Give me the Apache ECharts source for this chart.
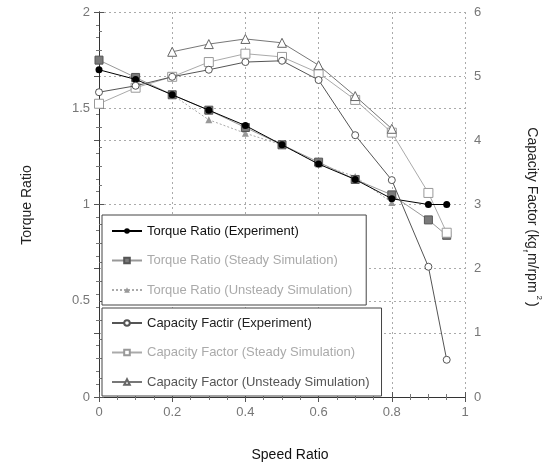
<!DOCTYPE html>
<html>
<head>
<meta charset="utf-8">
<script src="https://cdn.jsdelivr.net/npm/echarts@6/dist/echarts.min.js"></script>
<style>
html,body{margin:0;padding:0;background:#fff;}
#chart{width:542px;height:467px;}
</style>
</head>
<body>
<div id="chart"></div>
<script>
// Data
const speedFull = [0, 0.1, 0.2, 0.3, 0.4, 0.5, 0.6, 0.7, 0.8, 0.9, 0.95];
const speedUnsteady = [0.2, 0.3, 0.4, 0.5, 0.6, 0.7, 0.8];
const torqueExp = [1.70, 1.65, 1.57, 1.49, 1.41, 1.31, 1.21, 1.13, 1.03, 1.00, 1.00];
const torqueSteady = [1.75, 1.66, 1.57, 1.49, 1.40, 1.31, 1.22, 1.13, 1.05, 0.92, 0.84];
const torqueUnsteady = [1.57, 1.44, 1.37, 1.31, 1.21, 1.145, 1.01];
const capExp = [4.75, 4.85, 4.99, 5.10, 5.22, 5.24, 4.94, 4.08, 3.38, 2.03, 0.58];
const capSteady = [4.57, 4.82, 4.99, 5.22, 5.35, 5.30, 5.05, 4.63, 4.12, 3.18, 2.56];
const capUnsteady = [5.38, 5.50, 5.58, 5.52, 5.17, 4.69, 4.18];
const seriesNames = [
  'Torque Ratio (Experiment)',
  'Torque Ratio (Steady Simulation)',
  'Torque Ratio (Unsteady Simulation)',
  'Capacity Factir (Experiment)',
  'Capacity Factor (Steady Simulation)',
  'Capacity Factor (Unsteady Simulation)'
];
const xTitle = 'Speed Ratio';
const yLeftTitle = 'Torque Ratio';

const FONT = '"Liberation Sans", Arial, sans-serif';
const pairs = (xs, ys) => xs.map((x, i) => [x, ys[i]]);

const chart = echarts.init(document.getElementById('chart'), null, {renderer: 'canvas'});

const axisCommon = {
  axisLine: {show: true, lineStyle: {color: '#333', width: 1}},
  axisTick: {show: true, inside: true, length: 5, lineStyle: {color: '#555'}},
  minorTick: {show: true, length: 3, lineStyle: {color: '#777'}},
  axisLabel: {color: '#777', fontSize: 13, fontFamily: FONT},
  splitLine: {show: true, lineStyle: {type: [2, 3], color: '#aaa', width: 1}}
};

const option = {
  backgroundColor: '#fff',
  animation: false,
  grid: {left: 99, right: 77, top: 12, bottom: 70},
  xAxis: [
    Object.assign({}, axisCommon, {
      type: 'value', position: 'bottom', min: 0, max: 1, interval: 0.2,
      minorTick: {show: true, splitNumber: 4, length: 3, lineStyle: {color: '#777'}},
      axisLabel: {color: '#777', fontSize: 13, fontFamily: FONT, margin: 9}
    }),
    Object.assign({}, axisCommon, {
      type: 'value', position: 'top', min: 0, max: 1, interval: 0.2,
      minorTick: {show: true, splitNumber: 4, length: 3, lineStyle: {color: '#777'}},
      axisLabel: {show: false}, splitLine: {show: false}
    })
  ],
  yAxis: [
    Object.assign({}, axisCommon, {
      type: 'value', position: 'left', min: 0, max: 2, interval: 0.5,
      minorTick: {show: true, splitNumber: 5, length: 3, lineStyle: {color: '#777'}},
      axisLabel: {color: '#777', fontSize: 13, fontFamily: FONT, margin: 9}
    }),
    Object.assign({}, axisCommon, {
      type: 'value', position: 'right', min: 0, max: 6, interval: 1,
      minorTick: {show: true, splitNumber: 5, length: 3, lineStyle: {color: '#777'}},
      axisLabel: {color: '#777', fontSize: 13, fontFamily: FONT, margin: 9}
    })
  ],
  legend: [
    {
      orient: 'vertical', left: 102, top: 215,
      padding: [9, 14, 8, 9], itemWidth: 30, itemHeight: 7, itemGap: 15.5,
      borderColor: '#444', borderWidth: 1, backgroundColor: '#fff',
      selectedMode: false,
      textStyle: {fontSize: 13, fontFamily: FONT, lineHeight: 14},
      data: [
        {name: seriesNames[0], textStyle: {color: '#111'}},
        {name: seriesNames[1], textStyle: {color: '#aaa'}},
        {name: seriesNames[2], textStyle: {color: '#aaa'}}
      ]
    },
    {
      orient: 'vertical', left: 102, top: 308,
      padding: [8, 12, 7, 9], itemWidth: 30, itemHeight: 7, itemGap: 15.5,
      borderColor: '#444', borderWidth: 1, backgroundColor: '#fff',
      selectedMode: false,
      textStyle: {fontSize: 13, fontFamily: FONT, lineHeight: 14},
      data: [
        {name: seriesNames[3], textStyle: {color: '#222'}},
        {name: seriesNames[4], textStyle: {color: '#aaa'}},
        {name: seriesNames[5], textStyle: {color: '#555'}}
      ]
    }
  ],
  series: [
    {
      name: seriesNames[0], type: 'line', xAxisIndex: 0, yAxisIndex: 0,
      data: pairs(speedFull, torqueExp),
      symbol: 'circle', symbolSize: 7,
      itemStyle: {color: '#000'}, lineStyle: {color: '#000', width: 1}, z: 6
    },
    {
      name: seriesNames[1], type: 'line', xAxisIndex: 0, yAxisIndex: 0,
      data: pairs(speedFull, torqueSteady),
      symbol: 'rect', symbolSize: 8,
      itemStyle: {color: '#7a7a7a', borderColor: '#555', borderWidth: 1},
      lineStyle: {color: '#999', width: 1}, z: 5
    },
    {
      name: seriesNames[2], type: 'line', xAxisIndex: 0, yAxisIndex: 0,
      data: pairs(speedUnsteady, torqueUnsteady),
      symbol: 'triangle', symbolSize: 7,
      itemStyle: {color: '#999'},
      lineStyle: {color: '#aaa', width: 1, type: [2, 2]}, z: 4
    },
    {
      name: seriesNames[3], type: 'line', xAxisIndex: 0, yAxisIndex: 1,
      data: pairs(speedFull, capExp),
      symbol: 'circle', symbolSize: 7,
      itemStyle: {color: '#fff', borderColor: '#555', borderWidth: 1},
      lineStyle: {color: '#555', width: 1}, z: 6
    },
    {
      name: seriesNames[4], type: 'line', xAxisIndex: 0, yAxisIndex: 1,
      data: pairs(speedFull, capSteady),
      symbol: 'rect', symbolSize: 9,
      itemStyle: {color: '#fff', borderColor: '#999', borderWidth: 1},
      lineStyle: {color: '#aaa', width: 1}, z: 5
    },
    {
      name: seriesNames[5], type: 'line', xAxisIndex: 0, yAxisIndex: 1,
      data: pairs(speedUnsteady, capUnsteady),
      symbol: 'triangle', symbolSize: 9,
      itemStyle: {color: '#fff', borderColor: '#666', borderWidth: 1},
      lineStyle: {color: '#777', width: 1}, z: 5
    }
  ],
  graphic: [
    {
      type: 'text', x: 290, y: 455, z: 10,
      style: {text: xTitle, font: '14px ' + FONT, fill: '#111', align: 'center', verticalAlign: 'middle'}
    },
    {
      type: 'text', x: 27, y: 205, rotation: Math.PI / 2, z: 10,
      style: {text: yLeftTitle, font: '14px ' + FONT, fill: '#222', align: 'center', verticalAlign: 'middle'}
    },
    {
      type: 'text', x: 532, y: 217, rotation: -Math.PI / 2, z: 10,
      style: {
        text: 'Capacity Factor (kg{sub|f}m/rpm{sup|2})',
        font: '14px ' + FONT, fill: '#222', align: 'center', verticalAlign: 'middle',
        lineHeight: 22,
        rich: {
          sub: {fontSize: 8, fontFamily: FONT, fill: '#222', verticalAlign: 'bottom', lineHeight: 22, padding: [0, 1, 0, 1]},
          sup: {fontSize: 8, fontFamily: FONT, fill: '#222', verticalAlign: 'top', lineHeight: 22, padding: [0, 2, 0, 3]}
        }
      }
    }
  ]
};
chart.setOption(option);
</script>
</body>
</html>
